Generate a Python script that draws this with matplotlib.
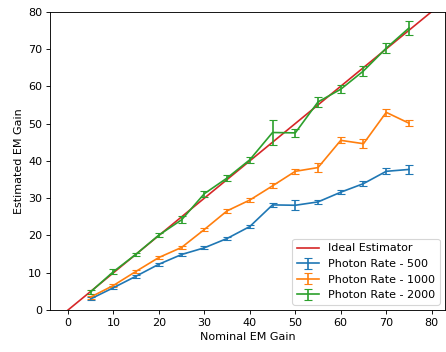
import numpy as np
import matplotlib
matplotlib.use('Agg')
import matplotlib.pyplot as plt

# Nominal gains used for every photon rate
gains = [5, 10, 15, 20, 25, 30, 35, 40, 45, 50, 55, 60, 65, 70, 75]

# Ideal estimator line
ideal = [0, 85]

# Estimated gain and error (std) per photon rate
est_500 = [3.0, 6.0, 9.1, 12.3, 14.9, 16.7, 19.2, 22.4, 28.2, 28.1, 29.0, 31.6, 33.9, 37.2, 37.7]
err_500 = [0.4, 0.4, 0.4, 0.4, 0.4, 0.4, 0.4, 0.5, 0.6, 1.3, 0.5, 0.5, 0.7, 0.8, 1.2]

est_1000 = [3.5, 6.6, 10.4, 14.1, 16.8, 21.6, 26.6, 29.5, 33.3, 37.2, 38.2, 45.5, 44.6, 53.0, 50.1]
err_1000 = [0.4, 0.4, 0.4, 0.4, 0.5, 0.5, 0.5, 0.6, 0.7, 0.7, 1.1, 0.8, 1.2, 1.0, 0.8]

est_2000 = [4.9, 10.3, 15.0, 20.1, 24.2, 31.2, 35.4, 40.3, 47.6, 47.5, 55.8, 59.2, 64.1, 70.2, 75.6]
err_2000 = [0.6, 0.7, 0.4, 0.5, 0.9, 0.8, 0.8, 0.8, 3.3, 1.0, 1.3, 1.1, 1.3, 1.4, 1.9]

DPI = 80
fig = plt.figure(figsize=(446 / DPI, 352 / DPI), dpi=DPI)
ax = fig.add_axes([0.112, 0.119, 0.886, 0.848])

ax.plot(ideal, ideal, color='tab:red', label='Ideal Estimator')
ax.errorbar(gains, est_500, yerr=err_500, capsize=4, label='Photon Rate - 500')
ax.errorbar(gains, est_1000, yerr=err_1000, capsize=4, label='Photon Rate - 1000')
ax.errorbar(gains, est_2000, yerr=err_2000, capsize=4, color='tab:green', label='Photon Rate - 2000')

ax.set_xlim(-3.95, 82.95)
ax.set_ylim(0, 80)
ax.set_xlabel('Nominal EM Gain')
ax.set_ylabel('Estimated EM Gain')
ax.legend(loc='lower right')

fig.savefig('out.png', dpi=DPI)
